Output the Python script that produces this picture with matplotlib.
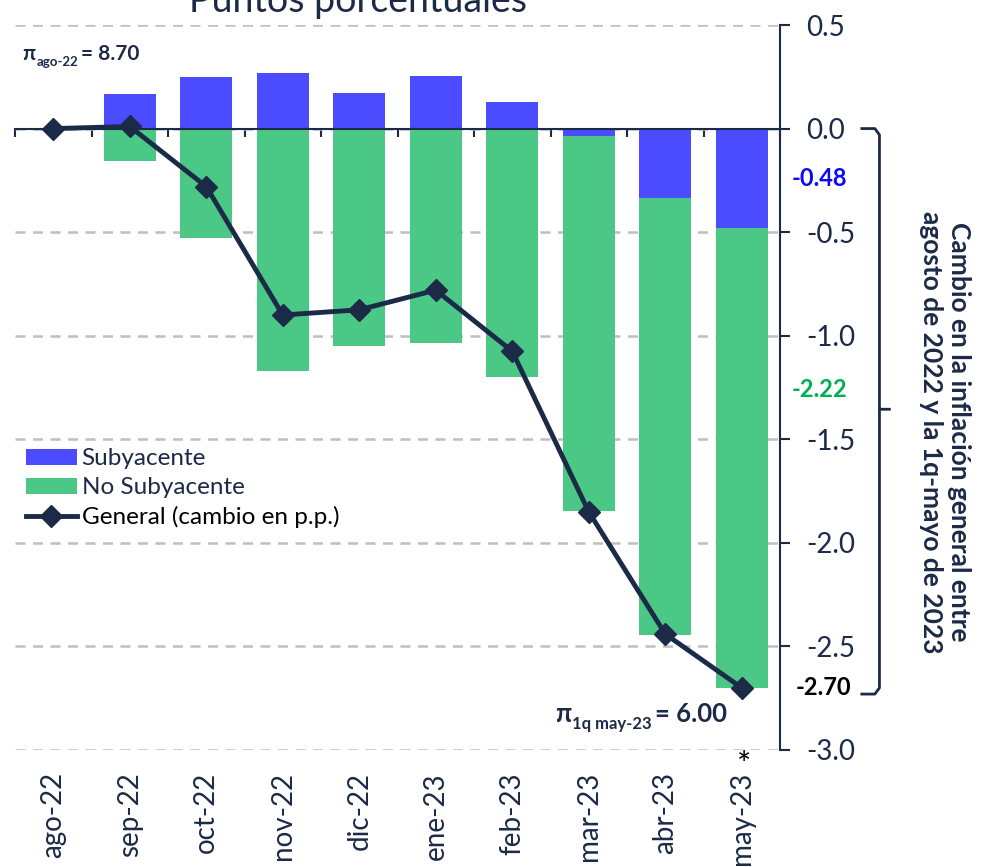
# Cambio en la inflación: contribuciones subyacente / no subyacente
import numpy as np
import matplotlib.pyplot as plt
import matplotlib.transforms as mtransforms

plt.rcParams['font.family'] = ['Lato', 'DejaVu Sans']
plt.rcParams['axes.unicode_minus'] = False

meses = ['ago-22', 'sep-22', 'oct-22', 'nov-22', 'dic-22', 'ene-23',
         'feb-23', 'mar-23', 'abr-23', 'may-23']
subyacente = [0.0, 0.165, 0.25, 0.27, 0.17, 0.255, 0.13, -0.035, -0.335, -0.48]
no_subyacente = [0.0, -0.155, -0.53, -1.17, -1.05, -1.035, -1.20, -1.81, -2.11, -2.22]
general = [0.0, 0.01, -0.28, -0.90, -0.875, -0.78, -1.075, -1.85, -2.44, -2.70]
yticks = [0.5, 0.0, -0.5, -1.0, -1.5, -2.0, -2.5, -3.0]

navy = '#1B2A47'
azul = '#4B4BFF'
verde = '#4CC886'

W, H = 981, 867
fig = plt.figure(figsize=(W / 100, H / 100), dpi=100)
ax = fig.add_axes([15 / W, 1 - 750 / H, 765 / W, 725 / H])

x = np.arange(len(meses))
sub = np.array(subyacente)
bottom_ns = np.where(sub < 0, sub, 0)

b1 = ax.bar(x, subyacente, width=0.68, color=azul, zorder=2, label='Subyacente')
b2 = ax.bar(x, no_subyacente, bottom=bottom_ns, width=0.68, color=verde, zorder=2,
            label='No Subyacente')
l1, = ax.plot(x, general, color=navy, lw=3.5, marker='D', ms=11, zorder=3,
              label='General (cambio en p.p.)')

ax.set_xlim(-0.5, 9.5)
ax.set_ylim(-3.0, 0.5)

# grid
ax.set_axisbelow(True)
ax.yaxis.grid(True, color='#BFBFBF', lw=1.8, dashes=(4, 3))
ax.set_yticks(yticks)
ax.set_yticklabels([f'{v:.1f}' for v in yticks])
ax.yaxis.tick_right()
ax.tick_params(axis='y', direction='out', length=7, width=1.5, color=navy,
               labelsize=20, labelcolor=navy, pad=12)

# spines
ax.spines['left'].set_visible(False)
ax.spines['top'].set_visible(False)
ax.spines['right'].set_color(navy)
ax.spines['right'].set_linewidth(1.5)
ax.spines['bottom'].set_position(('data', 0))
ax.spines['bottom'].set_color(navy)
ax.spines['bottom'].set_linewidth(1.5)
ax.set_xticks(np.arange(-0.5, 10, 1))
ax.tick_params(axis='x', direction='out', length=6, width=1.5, color=navy,
               labelbottom=False)

# month labels at the bottom
sec = ax.secondary_xaxis(0)
sec.set_xticks(x, meses, rotation=90)
sec.tick_params(length=0, labelsize=20, labelcolor=navy, pad=16)
sec.spines['bottom'].set_visible(False)

ax.annotate('*', xy=(9, -3.0), xytext=(2, -1), textcoords='offset points',
            ha='center', va='top', fontsize=24, color='black',
            annotation_clip=False)

# legend
leg = ax.legend(handles=[b1, b2, l1], loc='upper left', bbox_to_anchor=(0.014, 0.416),
                frameon=False, fontsize=17.5, handlelength=2.1, handleheight=0.65,
                labelspacing=0.32, handletextpad=0.2, borderpad=0, borderaxespad=0)
for t in leg.get_texts()[:2]:
    t.set_color(navy)

# values and brace at the right
trans = mtransforms.blended_transform_factory(ax.transAxes, ax.transData)
ax.text(1.051, subyacente[-1] / 2, f'{subyacente[-1]:.2f}', transform=trans,
        color='#0A0AF5', fontsize=17, fontweight='bold', ha='center', va='center')
ax.text(1.051, -1.26, f'{no_subyacente[-1]:.2f}', transform=trans,
        color='#00B050', fontsize=17, fontweight='bold', ha='center', va='center')
ax.text(1.057, general[-1], f'{general[-1]:.2f}', transform=trans,
        color='black', fontsize=17, fontweight='bold', ha='center', va='center')

x0, x1 = 1.107, 1.130
tip = -1.355
ytop, ybot = 0.0, -2.73
ax.plot([x0, x1 - 0.006, x1, x1, x1 + 0.013], [ytop, ytop, ytop - 0.03, tip, tip],
        transform=trans, color=navy, lw=2, clip_on=False)
ax.plot([x1, x1, x1 - 0.006, x0], [tip, ybot + 0.03, ybot, ybot],
        transform=trans, color=navy, lw=2, clip_on=False)

fig.text(945 / W, 1 - 432 / H,
         'Cambio en la inflación general entre\nagosto de 2022 y la 1q-mayo de 2023',
         rotation=-90, ha='center', va='center', multialignment='center',
         fontsize=19, fontweight='bold', color=navy, linespacing=1.2)

# title (cut at the top of the picture)
fig.text(358 / W, 1 - 12 / H, 'Puntos porcentuales', ha='center', va='baseline',
         fontsize=27, color=navy)

# pi labels with subscripts
renderer = fig.canvas.get_renderer()


def chain_text(xpx, ypx, parts):
    xf = xpx / W
    for s, size, dy, gap in parts:
        xf += gap / W
        t = fig.text(xf, 1 - (ypx + dy) / H, s, fontsize=size, fontweight='bold',
                     color=navy, ha='left', va='baseline')
        xf += t.get_window_extent(renderer).width / fig.bbox.width


chain_text(22, 60, [('π', 15, 0, 0), ('ago-22', 9.5, 6, 1), ('= 8.70', 15, 0, 3)])
chain_text(555, 722, [('π', 18.5, 0, 0), ('1q may-23', 12, 7, 1), ('= 6.00', 18.5, 0, 3)])

fig.savefig('out.png', dpi=100)
